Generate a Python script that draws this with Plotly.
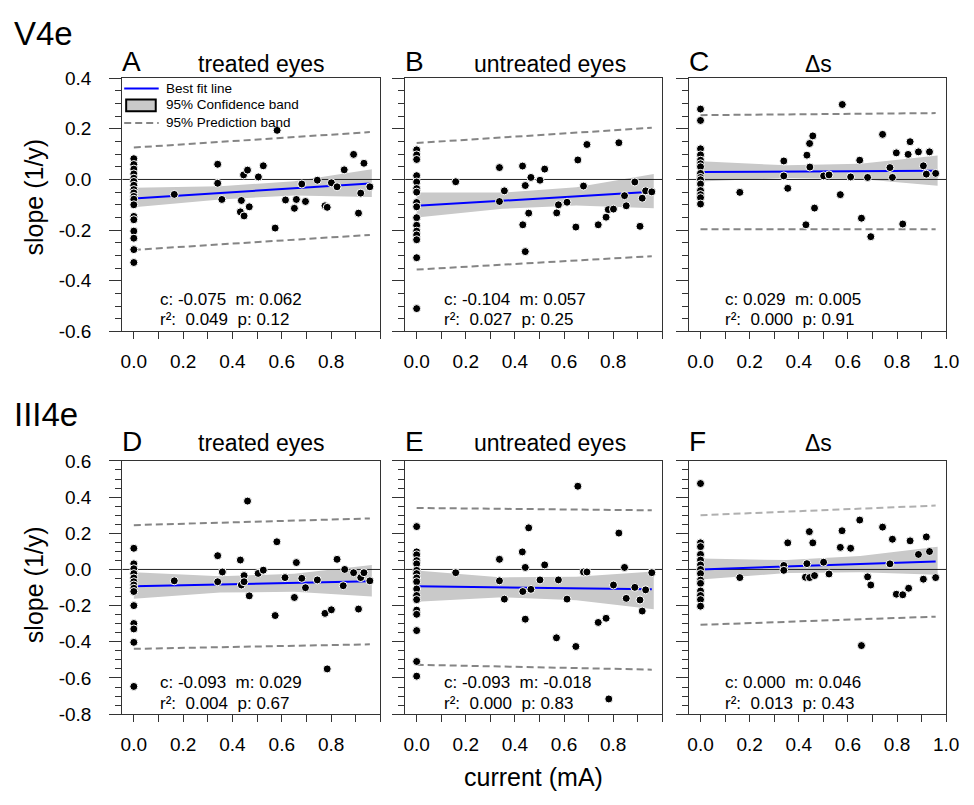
import plotly.graph_objects as go

# ---------------- data ----------------
PANEL_LETTERS = ["A", "B", "C", "D", "E", "F"]
PANEL_TITLES = ["treated eyes", "untreated eyes", "Δs", "treated eyes", "untreated eyes", "Δs"]
ROW_LABELS = ["V4e", "III4e"]
LEGEND_LABELS = ["Best fit line", "95% Confidence band", "95% Prediction band"]

A_X = [0.0, 0.0, 0.0, 0.0, 0.0, 0.0, 0.0, 0.0, 0.0, 0.0, 0.0, 0.0, 0.0, 0.0, 0.0, 0.0, 0.0, 0.0,
       0.164, 0.340, 0.340, 0.357, 0.436, 0.432, 0.447, 0.445, 0.461, 0.468, 0.505, 0.525, 0.573,
       0.581, 0.615, 0.651, 0.659, 0.681, 0.696, 0.744, 0.775, 0.784, 0.801, 0.824, 0.853, 0.891,
       0.911, 0.920, 0.933, 0.957]
A_Y = [0.082, 0.059, 0.041, 0.022, 0.005, -0.008, -0.023, -0.040, -0.053, -0.067, -0.078, -0.100,
       -0.146, -0.159, -0.204, -0.232, -0.277, -0.328,
       -0.059, 0.060, -0.015, -0.079, -0.083, -0.128, -0.144, 0.018, 0.037, -0.108, 0.010, 0.054,
       -0.192, 0.194, -0.081, -0.114, -0.079, -0.018, -0.087, -0.003, -0.104, -0.110, -0.013,
       -0.029, 0.038, 0.099, -0.133, -0.054, 0.064, -0.029]

B_X = [0.0, 0.0, 0.0, 0.0, 0.0, 0.0, 0.0, 0.0, 0.0, 0.0, 0.0, 0.0, 0.0, 0.0, 0.0, 0.0,
       0.159, 0.337, 0.337, 0.357, 0.431, 0.432, 0.442, 0.442, 0.456, 0.465, 0.502, 0.521, 0.570,
       0.577, 0.612, 0.648, 0.656, 0.679, 0.693, 0.739, 0.771, 0.780, 0.801, 0.823, 0.846, 0.853,
       0.888, 0.909, 0.918, 0.932, 0.957]
B_Y = [0.117, 0.097, 0.079, 0.015, -0.010, -0.036, -0.050, -0.091, -0.108, -0.151, -0.181, -0.204,
       -0.219, -0.238, -0.309, -0.510,
       -0.009, 0.047, -0.087, -0.045, 0.053, -0.179, -0.024, -0.285, -0.133, 0.008, -0.003, 0.041,
       -0.132, -0.100, -0.090, -0.188, 0.077, -0.026, 0.138, -0.179, -0.149, -0.119, -0.117, 0.145,
       -0.064, -0.104, -0.010, -0.185, -0.074, -0.045, -0.049]

C_X = [0.0, 0.0, 0.0, 0.0, 0.0, 0.0, 0.0, 0.0, 0.0, 0.0, 0.0, 0.0, 0.0, 0.0, 0.0,
       0.160, 0.339, 0.339, 0.355, 0.429, 0.433, 0.444, 0.445, 0.457, 0.464, 0.501, 0.523, 0.569,
       0.577, 0.611, 0.648, 0.655, 0.680, 0.693, 0.741, 0.771, 0.781, 0.797, 0.823, 0.845, 0.853,
       0.887, 0.907, 0.919, 0.932, 0.957]
C_Y = [0.278, 0.233, 0.121, 0.097, 0.076, 0.062, 0.050, 0.024, 0.008, -0.001, -0.018, -0.044,
       -0.060, -0.072, -0.097,
       -0.051, 0.073, 0.014, -0.035, -0.179, 0.096, 0.142, 0.049, 0.172, -0.113, 0.014, 0.018,
       -0.060, 0.296, 0.010, 0.076, -0.153, 0.008, -0.226, 0.178, 0.047, 0.008, 0.105, -0.176,
       0.099, 0.149, 0.109, 0.054, 0.021, 0.109, 0.024]

D_X = [0.0, 0.0, 0.0, 0.0, 0.0, 0.0, 0.0, 0.0, 0.0, 0.0, 0.0, 0.0, 0.0, 0.0,
       0.164, 0.340, 0.340, 0.359, 0.432, 0.436, 0.447, 0.447, 0.461, 0.468, 0.504, 0.525, 0.573,
       0.580, 0.613, 0.651, 0.659, 0.681, 0.696, 0.744, 0.775, 0.784, 0.801, 0.824, 0.849, 0.855,
       0.891, 0.911, 0.920, 0.933, 0.957]
D_Y = [0.117, 0.031, 0.004, -0.023, -0.047, -0.068, -0.086, -0.104, -0.122, -0.200, -0.299,
       -0.329, -0.403, -0.647,
       -0.063, 0.076, -0.068, -0.014, 0.052, -0.086, -0.034, -0.068, 0.378, -0.146, -0.022, -0.004,
       -0.255, 0.153, -0.045, -0.155, 0.038, -0.049, -0.101, -0.058, -0.243, -0.550, -0.223, 0.056,
       -0.090, 0.000, -0.018, -0.219, -0.045, -0.018, -0.063]

E_X = [0.0, 0.0, 0.0, 0.0, 0.0, 0.0, 0.0, 0.0, 0.0, 0.0, 0.0, 0.0, 0.0, 0.0, 0.0, 0.0, 0.0,
       0.159, 0.337, 0.337, 0.357, 0.430, 0.432, 0.442, 0.442, 0.456, 0.465, 0.502, 0.521, 0.569,
       0.577, 0.612, 0.648, 0.656, 0.679, 0.693, 0.739, 0.771, 0.782, 0.801, 0.823, 0.846, 0.853,
       0.888, 0.909, 0.918, 0.932, 0.957]
E_Y = [0.237, 0.097, 0.081, 0.049, 0.031, -0.005, -0.023, -0.047, -0.068, -0.108, -0.144, -0.167,
       -0.225, -0.248, -0.338, -0.509, -0.590,
       -0.018, 0.056, -0.063, -0.164, 0.097, -0.122, 0.011, -0.275, 0.230, -0.110, -0.058, 0.025,
       -0.378, -0.058, -0.164, -0.426, 0.460, -0.014, -0.014, -0.293, -0.270, -0.716, -0.086, 0.201,
       0.011, -0.160, -0.099, -0.169, -0.230, -0.113, -0.018]

F_X = [0.0, 0.0, 0.0, 0.0, 0.0, 0.0, 0.0, 0.0, 0.0, 0.0, 0.0, 0.0, 0.0, 0.0,
       0.160, 0.339, 0.339, 0.355, 0.427, 0.433, 0.443, 0.444, 0.457, 0.464, 0.501, 0.523, 0.569,
       0.576, 0.611, 0.648, 0.655, 0.680, 0.693, 0.741, 0.771, 0.781, 0.797, 0.823, 0.847, 0.853,
       0.887, 0.907, 0.919, 0.932, 0.957]
F_Y = [0.475, 0.147, 0.126, 0.083, 0.052, 0.025, 0.000, -0.023, -0.059, -0.077, -0.119, -0.144,
       -0.167, -0.203,
       -0.045, 0.022, -0.005, 0.147, -0.043, 0.032, 0.209, -0.045, 0.147, -0.034, 0.040, -0.025,
       0.122, 0.214, 0.117, 0.273, -0.421, -0.041, -0.086, 0.234, 0.031, 0.167, -0.137, -0.140,
       -0.104, 0.158, 0.083, -0.054, 0.180, 0.099, -0.045]

POINTS_X = [A_X, B_X, C_X, D_X, E_X, F_X]
POINTS_Y = [A_Y, B_Y, C_Y, D_Y, E_Y, F_Y]

# best fit line (read at start and end of fitted range)
FIT_X = [0.0, 0.957]
FIT_Y = [[-0.075, -0.0155], [-0.104, -0.049], [0.029, 0.034],
         [-0.093, -0.065], [-0.093, -0.110], [0.000, 0.044]]

# 95% confidence band
BAND_X = [0.0, 0.35, 0.65, 0.965]
BAND_UP = [[-0.033, -0.027, -0.007, 0.040], [-0.052, -0.052, -0.031, 0.022],
           [0.072, 0.056, 0.062, 0.095], [-0.016, -0.038, -0.024, 0.024],
           [-0.006, -0.044, -0.040, -0.012], [0.060, 0.052, 0.075, 0.126]]
BAND_LO = [[-0.110, -0.079, -0.063, -0.069], [-0.150, -0.116, -0.103, -0.114],
           [-0.008, 0.006, 0.002, -0.025], [-0.162, -0.128, -0.124, -0.150],
           [-0.178, -0.154, -0.170, -0.220], [-0.056, -0.020, -0.015, -0.030]]

# 95% prediction band
PRED_X = [0.0, 0.957]
PRED_UP = [[0.126, 0.187], [0.144, 0.204], [0.254, 0.262],
           [0.245, 0.282], [0.340, 0.327], [0.300, 0.353]]
PRED_LO = [[-0.278, -0.219], [-0.356, -0.303], [-0.197, -0.197],
           [-0.439, -0.414], [-0.527, -0.554], [-0.306, -0.261]]

STATS_1 = ["c: -0.075  m: 0.062", "c: -0.104  m: 0.057", "c: 0.029  m: 0.005",
           "c: -0.093  m: 0.029", "c: -0.093  m: -0.018", "c: 0.000  m: 0.046"]
STATS_2 = ["r²:  0.049  p: 0.12", "r²:  0.027  p: 0.25", "r²:  0.000  p: 0.91",
           "r²:  0.004  p: 0.67", "r²:  0.000  p: 0.83", "r²:  0.013  p: 0.43"]

X_RANGE = [-0.047, 1.0]
X_TICKS = [0.0, 0.1, 0.2, 0.3, 0.4, 0.5, 0.6, 0.7, 0.8, 0.9, 1.0]
X_TICK_TEXT_AB = ["0.0", "", "0.2", "", "0.4", "", "0.6", "", "0.8", "", ""]
X_TICK_TEXT_C = ["0.0", "", "0.2", "", "0.4", "", "0.6", "", "0.8", "", "1.0"]
Y_RANGES = [[-0.6, 0.4], [-0.8, 0.6]]
Y_TICKS = [[-0.6, -0.4, -0.2, 0.0, 0.2, 0.4], [-0.8, -0.6, -0.4, -0.2, 0.0, 0.2, 0.4, 0.6]]
Y_TICK_TEXT = [["-0.6", "-0.4", "-0.2", "0.0", "0.2", "0.4"],
               ["-0.8", "-0.6", "-0.4", "-0.2", "0.0", "0.2", "0.4", "0.6"]]

# ---------------- style / layout ----------------
W, H = 974, 805
FONT = "Arial, Liberation Sans, sans-serif"
BLUE = "#0000ff"
BAND = "#c9c9c9"
PRED = "#858585"
FRAME = "#333333"
DASH = "7px,4px"

XDOM_PX = [(123, 385), (410, 671), (698, 959)]
YDOM_PX = [(70, 330), (463, 723)]


def px_x(p):
    return p / W


def px_y(p):
    return 1 - p / H


fig = go.Figure()
layout = dict(width=W, height=H, margin=dict(l=0, r=0, t=0, b=0),
              paper_bgcolor="white", plot_bgcolor="white",
              font=dict(family=FONT, color="black"),
              showlegend=False)
annotations = []
shapes = []

for i in range(6):
    r, c = divmod(i, 3)
    n = "" if i == 0 else str(i + 1)
    xr, yr = "x" + n, "y" + n

    # confidence band
    fig.add_trace(go.Scatter(x=BAND_X + BAND_X[::-1], y=BAND_UP[i] + BAND_LO[i][::-1],
                             fill="toself", fillcolor=BAND, mode="lines",
                             line=dict(width=0, color=BAND), hoverinfo="skip",
                             xaxis=xr, yaxis=yr))
    # zero line
    fig.add_trace(go.Scatter(x=X_RANGE, y=[0, 0], mode="lines",
                             line=dict(color="#222222", width=1), hoverinfo="skip",
                             xaxis=xr, yaxis=yr))
    # prediction bands
    up_col = "#b0b0b0" if i == 5 else PRED
    fig.add_trace(go.Scatter(x=PRED_X, y=PRED_UP[i], mode="lines",
                             line=dict(color=up_col, width=2, dash=DASH),
                             xaxis=xr, yaxis=yr))
    fig.add_trace(go.Scatter(x=PRED_X, y=PRED_LO[i], mode="lines",
                             line=dict(color=PRED, width=2, dash=DASH),
                             xaxis=xr, yaxis=yr))
    # best fit
    fig.add_trace(go.Scatter(x=FIT_X, y=FIT_Y[i], mode="lines",
                             line=dict(color=BLUE, width=2),
                             xaxis=xr, yaxis=yr))
    # points
    fig.add_trace(go.Scatter(x=POINTS_X[i], y=POINTS_Y[i], mode="markers",
                             marker=dict(color="black", size=8,
                                         line=dict(color="white", width=1)),
                             xaxis=xr, yaxis=yr))

    x0, x1 = XDOM_PX[c]
    y0, y1 = YDOM_PX[r]
    layout["xaxis" + n] = dict(domain=[px_x(x0), px_x(x1)], range=X_RANGE, anchor=yr,
                               showline=True, mirror=True, linecolor=FRAME, linewidth=1,
                               showgrid=False, zeroline=False,
                               ticks="outside", ticklen=7, tickcolor=FRAME,
                               tickmode="array", tickvals=X_TICKS,
                               ticktext=X_TICK_TEXT_C if c == 2 else X_TICK_TEXT_AB,
                               tickfont=dict(size=19, family=FONT, color="black"),
                               ticklabelstandoff=6)
    layout["yaxis" + n] = dict(domain=[px_y(y1), px_y(y0)], range=Y_RANGES[r], anchor=xr,
                               showline=True, mirror=True, linecolor=FRAME, linewidth=1,
                               showgrid=False, zeroline=False,
                               ticks="outside", ticklen=12, tickcolor=FRAME,
                               tickmode="array", tickvals=Y_TICKS[r], ticktext=Y_TICK_TEXT[r],
                               showticklabels=(c == 0),
                               tickfont=dict(size=19, family=FONT, color="black"),
                               ticklabelstandoff=14,
                               minor=dict(dtick=0.05, tick0=0, ticks="outside", ticklen=6,
                                          tickcolor=FRAME, showgrid=False))

    # panel letter and title
    base = 63 if r == 0 else 453
    annotations.append(dict(text=PANEL_LETTERS[i], x=px_x(x0 - 2), y=px_y(base - 9.7),
                            xref="paper", yref="paper", xanchor="left", yanchor="middle",
                            showarrow=False, font=dict(size=28, family=FONT)))
    title_cx = [264, 557, 829][c]
    annotations.append(dict(text=PANEL_TITLES[i], x=px_x(title_cx), y=px_y(base - 8),
                            xref="paper", yref="paper", xanchor="center", yanchor="middle",
                            showarrow=False, font=dict(size=23, family=FONT)))
    # stats
    sx = [159, 447, 733][c]
    sb1 = 303 if r == 0 else 697
    annotations.append(dict(text=STATS_1[i].replace(" ", "\u00a0"), x=px_x(sx), y=px_y(sb1 - 6),
                            xref="paper", yref="paper", xanchor="left", yanchor="middle",
                            showarrow=False, font=dict(size=17, family=FONT)))
    annotations.append(dict(text=STATS_2[i].replace(" ", "\u00a0"), x=px_x(sx), y=px_y(sb1 + 21 - 6),
                            xref="paper", yref="paper", xanchor="left", yanchor="middle",
                            showarrow=False, font=dict(size=17, family=FONT)))

# row labels and axis titles
for r, lab in enumerate(ROW_LABELS):
    annotations.append(dict(text=lab, x=px_x(11), y=px_y([24, 415][r]),
                            xref="paper", yref="paper", xanchor="left", yanchor="middle",
                            showarrow=False, font=dict(size=33, family=FONT)))
    annotations.append(dict(text="slope (1/y)", x=px_x(33), y=px_y([192, 590][r]),
                            xref="paper", yref="paper", xanchor="center", yanchor="middle",
                            textangle=-90, showarrow=False, font=dict(size=25, family=FONT)))

annotations.append(dict(text="current (mA)", x=px_x(540), y=px_y(788),
                        xref="paper", yref="paper", xanchor="center", yanchor="middle",
                        showarrow=False, font=dict(size=25, family=FONT)))

# legend (drawn inside panel A)
LEG_Y = [80.7, 98, 116]
shapes.append(dict(type="line", xref="paper", yref="paper",
                   x0=px_x(125), x1=px_x(160), y0=px_y(LEG_Y[0]), y1=px_y(LEG_Y[0]),
                   line=dict(color=BLUE, width=2)))
shapes.append(dict(type="rect", xref="paper", yref="paper",
                   x0=px_x(127), x1=px_x(157), y0=px_y(LEG_Y[1] - 6), y1=px_y(LEG_Y[1] + 6),
                   fillcolor=BAND, line=dict(color="black", width=2)))
shapes.append(dict(type="line", xref="paper", yref="paper",
                   x0=px_x(125), x1=px_x(160), y0=px_y(LEG_Y[2]), y1=px_y(LEG_Y[2]),
                   line=dict(color=PRED, width=2, dash=DASH)))
for k, lab in enumerate(LEGEND_LABELS):
    annotations.append(dict(text=lab, x=px_x(165), y=px_y(LEG_Y[k] - 0.5),
                            xref="paper", yref="paper", xanchor="left", yanchor="middle",
                            showarrow=False, font=dict(size=13.5, family=FONT)))

layout["annotations"] = annotations
layout["shapes"] = shapes
fig.update_layout(**layout)

fig.write_html("out.html")
